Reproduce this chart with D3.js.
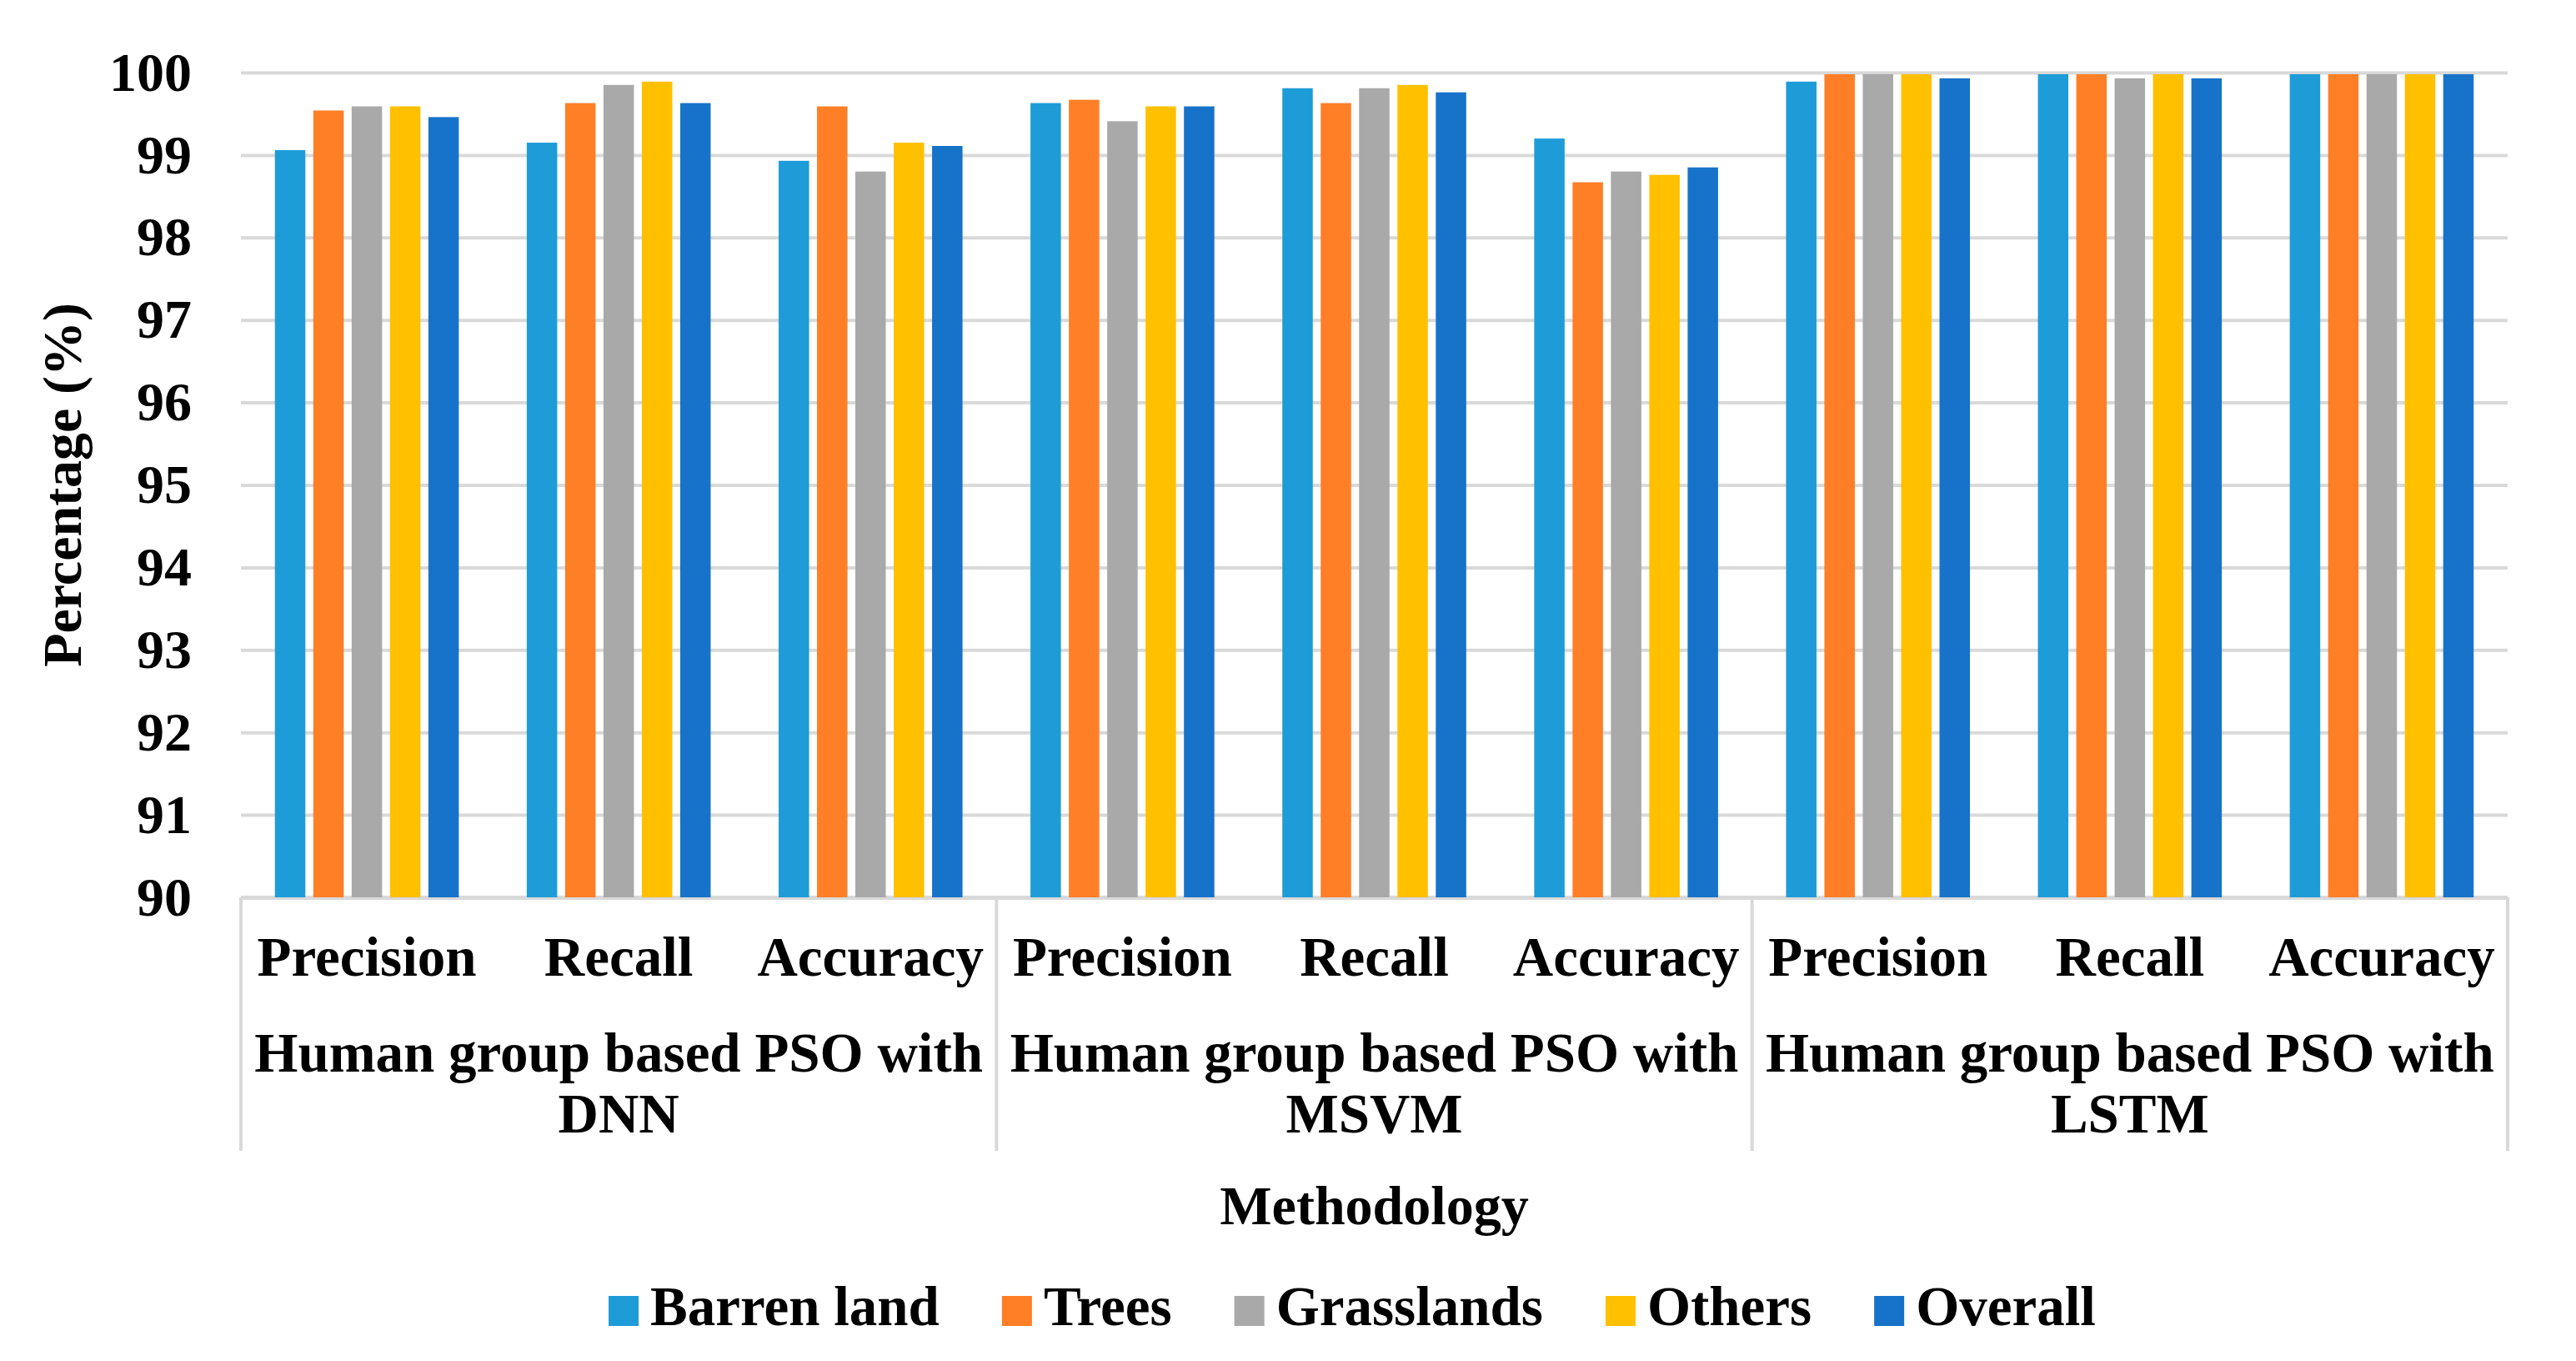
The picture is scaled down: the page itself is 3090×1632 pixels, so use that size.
<!DOCTYPE html>
<html><head><meta charset="utf-8">
<script src="https://cdn.jsdelivr.net/npm/d3@7"></script>
<style>
body{margin:0;background:#fff}
svg{display:block}
text{font-family:"Liberation Serif","Times New Roman",serif;font-weight:bold;fill:#000}
</style>
</head><body>
<svg id="c" width="3090" height="1632"></svg>
<script>
// ---- data ----
const groups = ["Human group based PSO with DNN", "Human group based PSO with MSVM", "Human group based PSO with LSTM"];
const metrics = ["Precision", "Recall", "Accuracy"];
const seriesNames = ["Barren land", "Trees", "Grasslands", "Others", "Overall"];
const barrenLand = [99.06, 99.15, 98.93, 99.63, 99.81, 99.20, 99.89, 99.98, 99.98];
const trees      = [99.54, 99.63, 99.59, 99.67, 99.63, 98.67, 99.98, 99.98, 99.98];
const grasslands = [99.59, 99.85, 98.80, 99.41, 99.81, 98.80, 99.98, 99.93, 99.98];
const others     = [99.59, 99.89, 99.15, 99.59, 99.85, 98.76, 99.98, 99.98, 99.98];
const overall    = [99.46, 99.63, 99.11, 99.59, 99.76, 98.85, 99.93, 99.93, 99.98];
const yTicks = [90, 91, 92, 93, 94, 95, 96, 97, 98, 99, 100];
const yTitle = "Percentage (%)";
const xTitle = "Methodology";
const colors = ["#1E9CD8", "#FF7F27", "#A9A9A9", "#FFC000", "#1773C9"];

(function () {
const seriesValues = [barrenLand, trees, grasslands, others, overall];
const categories = [];
groups.forEach((g, gi) => metrics.forEach(m => categories.push({key: gi + "|" + m, group: g, metric: m})));

// ---- layout ----
const pLeft = 289, pRight = 3008, pTop = 87, pBottom = 1076;
const svg = d3.select("#c");
svg.append("rect").attr("width", 3090).attr("height", 1632).attr("fill", "#fff");

const x0 = d3.scaleBand().domain(categories.map(c => c.key)).range([pLeft, pRight]);
const xg = d3.scaleBand().domain(groups).range([pLeft, pRight]);
const x1 = d3.scaleBand().domain(seriesNames).range([0, x0.bandwidth()])
  .paddingInner(0.2065).paddingOuter(0.886);
const y = d3.scaleLinear().domain([90, 100]).range([pBottom, pTop]);

// grid + y axis
const gy = svg.append("g").attr("transform", `translate(${pLeft},0)`)
  .call(d3.axisLeft(y).tickValues(yTicks).tickFormat(d3.format("d"))
    .tickSize(-(pRight - pLeft)).tickPadding(59));
gy.select(".domain").remove();
gy.selectAll(".tick line").attr("stroke", "#D9D9D9").attr("stroke-width", d => d === 90 ? 5 : 4);
gy.selectAll(".tick text").attr("font-size", 66).attr("fill", "#000")
  .attr("font-family", "Liberation Serif, Times New Roman, serif").attr("font-weight", "bold");

// bars
const catG = svg.append("g").selectAll("g").data(categories).join("g")
  .attr("transform", d => `translate(${x0(d.key)},0)`);
catG.selectAll("rect").data((d, i) => seriesNames.map((s, si) => ({s, si, v: seriesValues[si][i]})))
  .join("rect")
  .attr("x", d => x1(d.s))
  .attr("width", x1.bandwidth())
  .attr("y", d => y(d.v))
  .attr("height", d => y(90) - y(d.v))
  .attr("fill", d => colors[d.si]);

// separators of the multi-level category axis
const sepX = groups.map(g => xg(g)).concat([pRight]);
svg.append("g").selectAll("line").data(sepX).join("line")
  .attr("x1", d => d).attr("x2", d => d)
  .attr("y1", pBottom).attr("y2", 1380)
  .attr("stroke", "#D9D9D9").attr("stroke-width", 4);

// category labels
svg.append("g").selectAll("text").data(categories).join("text")
  .attr("x", d => x0(d.key) + x0.bandwidth() / 2)
  .attr("y", 1170)
  .attr("text-anchor", "middle")
  .attr("font-size", 67)
  .text(d => d.metric);

// group labels with wrapping
function wrap(sel, width, lineH) {
  sel.each(function() {
    const t = d3.select(this);
    const words = t.text().split(/\s+/);
    const xx = t.attr("x"), yy = +t.attr("y");
    t.text(null);
    let line = [], lineNo = 0;
    let ts = t.append("tspan").attr("x", xx).attr("y", yy);
    words.forEach(w => {
      line.push(w);
      ts.text(line.join(" "));
      if (ts.node().getComputedTextLength() > width && line.length > 1) {
        line.pop();
        ts.text(line.join(" "));
        line = [w];
        lineNo++;
        ts = t.append("tspan").attr("x", xx).attr("y", yy + lineNo * lineH).text(w);
      }
    });
  });
}
svg.append("g").selectAll("text").data(groups).join("text")
  .attr("x", d => xg(d) + xg.bandwidth() / 2)
  .attr("y", 1285)
  .attr("text-anchor", "middle")
  .attr("font-size", 67)
  .text(d => d)
  .call(wrap, xg.bandwidth() - 10, 73);

// axis titles
svg.append("text")
  .attr("transform", `translate(97,${(pTop + pBottom) / 2}) rotate(-90)`)
  .attr("text-anchor", "middle")
  .attr("font-size", 66)
  .text(yTitle);
svg.append("text")
  .attr("x", (pLeft + pRight) / 2).attr("y", 1468)
  .attr("text-anchor", "middle")
  .attr("font-size", 66)
  .text(xTitle);

// legend
const lg = svg.append("g");
let cx = 0;
seriesNames.forEach((s, i) => {
  const it = lg.append("g").attr("transform", `translate(${cx},0)`);
  it.append("rect").attr("x", 0).attr("y", 1554).attr("width", 36).attr("height", 36).attr("fill", colors[i]);
  const tx = it.append("text").attr("x", 50).attr("y", 1589).attr("font-size", 67).text(s);
  cx += 50 + tx.node().getComputedTextLength() + 75;
});
const legendW = cx - 75;
lg.attr("transform", `translate(${1622 - legendW / 2},0)`);
})();
</script>
</body></html>
